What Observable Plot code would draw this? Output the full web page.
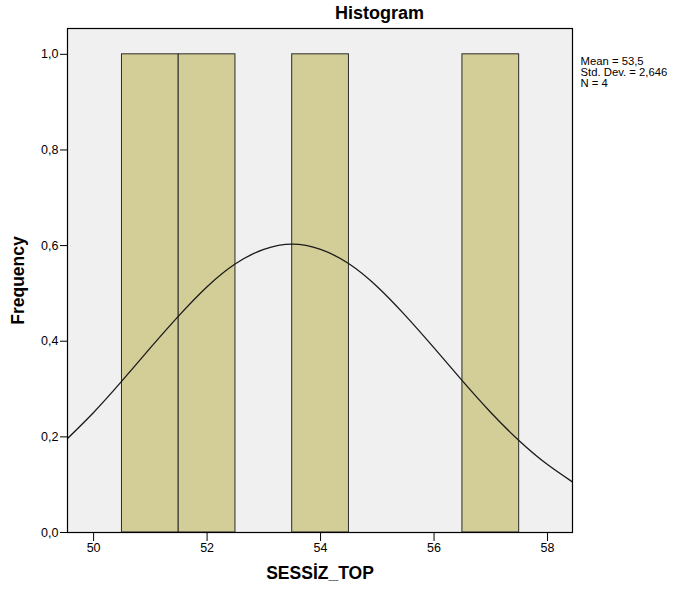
<!DOCTYPE html>
<html>
<head>
<meta charset="utf-8">
<script src="https://cdn.jsdelivr.net/npm/d3@7"></script>
<script src="https://cdn.jsdelivr.net/npm/@observablehq/plot@0.6"></script>
<style>
  html, body { margin: 0; padding: 0; background: #ffffff; }
</style>
</head>
<body>
<div id="chart"></div>
<script>
// Histogram bins (SESSİZ_TOP values 51, 52, 54, 57)
const binStart = [50.5, 51.5, 53.5, 56.5];
const binEnd   = [51.5, 52.5, 54.5, 57.5];
const binCount = [1, 1, 1, 1];

// Normal curve
const curveX = [49.5, 50, 50.5, 51, 51.5, 52, 52.5, 53, 53.5, 54, 54.5, 55, 55.5, 56, 56.5, 57, 57.5, 58, 58.5];
const curveY = [0.192, 0.251, 0.317, 0.386, 0.453, 0.514, 0.562, 0.592, 0.603, 0.592, 0.562, 0.514, 0.453, 0.386, 0.317, 0.251, 0.192, 0.142, 0.101];

const xTicks = [50, 52, 54, 56, 58];
const yTicks = [0, 0.2, 0.4, 0.6, 0.8, 1.0];

const titleText = "Histogram";
const xLabel = "SESSİZ_TOP";
const yLabel = "Frequency";
const statsText = ["Mean = 53,5", "Std. Dev. = 2,646", "N = 4"];

const bins = binStart.map((s, i) => ({x1: s, x2: binEnd[i], y: binCount[i]}));
const curve = curveX.map((x, i) => ({x, y: curveY[i]}));

const comma = d => d.toFixed(1).replace(".", ",");

const chart = Plot.plot({
  width: 685,
  height: 596,
  marginLeft: 67,
  marginRight: 113,
  marginTop: 28,
  marginBottom: 64,
  style: {fontFamily: "'Liberation Sans', Arial, sans-serif", fontSize: "12px", background: "#ffffff", color: "#000"},
  x: {domain: [49.54, 58.44]},
  y: {domain: [0, 1.054]},
  marks: [
    Plot.frame({fill: "#f0f0f0", stroke: null}),
    Plot.rect(bins, {x1: "x1", x2: "x2", y1: 0, y2: "y", fill: "#d3ce97", stroke: "#2b2b2b", strokeWidth: 1}),
    Plot.line(curve, {x: "x", y: "y", curve: "natural", clip: true, stroke: "#1a1a1a", strokeWidth: 1.3}),
    Plot.frame({stroke: "#000", strokeWidth: 1.2}),
    Plot.axisX({ticks: xTicks, tickFormat: d => String(d), tickSize: 9, tickPadding: 2, label: null, fontSize: 12.5}),
    Plot.axisY({ticks: yTicks, tickFormat: comma, tickSize: 7, tickPadding: 2, label: null, fontSize: 12.5}),
    Plot.text([titleText], {frameAnchor: "top", dx: 59.5, dy: -22, fontWeight: "bold", fontSize: 18}),
    Plot.text([xLabel], {frameAnchor: "bottom", dy: 46, fontWeight: "bold", fontSize: 17.5}),
    Plot.text([yLabel], {frameAnchor: "left", dx: -49, rotate: -90, textAnchor: "middle", fontWeight: "bold", fontSize: 17.5}),
    Plot.text([statsText.join("\n")], {frameAnchor: "top-right", dx: 8, dy: 28, textAnchor: "start", lineAnchor: "top", lineHeight: 1.0, fontSize: 11.3})
  ]
});
document.getElementById("chart").appendChild(chart);
</script>
</body>
</html>
